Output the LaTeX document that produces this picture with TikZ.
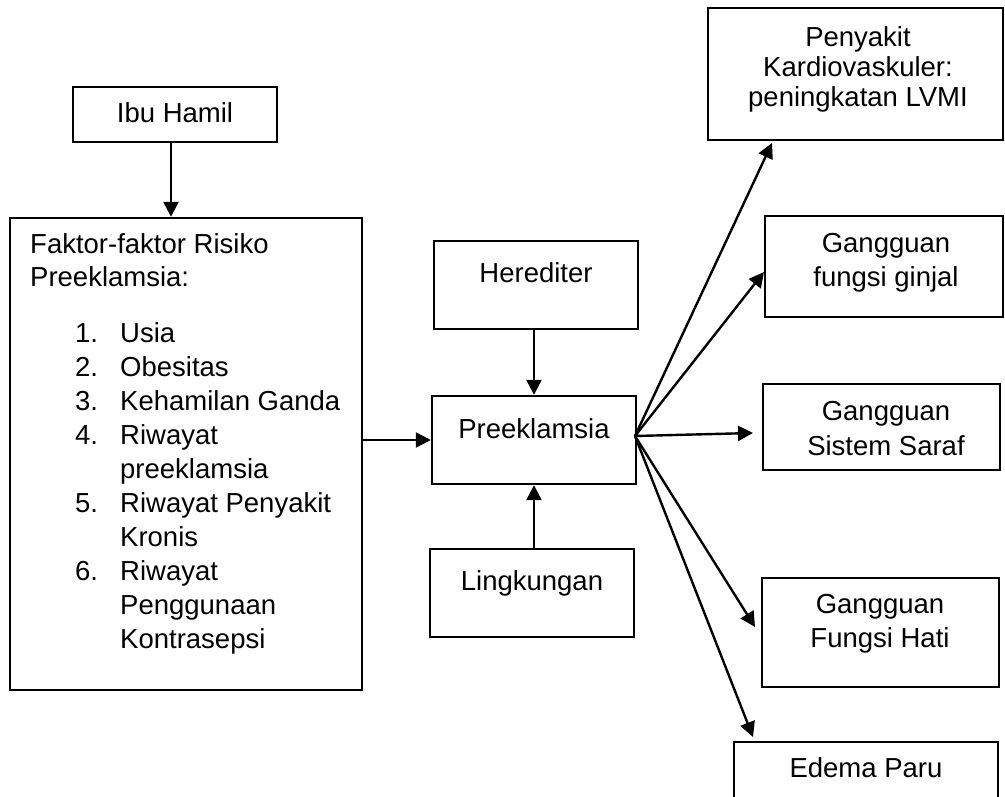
\documentclass[tikz,border=0pt]{standalone}
\usepackage{fontspec}
\setmainfont{Liberation Sans}
\usetikzlibrary{arrows.meta}
\begin{document}
\begin{tikzpicture}[x=1pt,y=-1pt,
  box/.style={draw=black, line width=2.4pt, rectangle, inner sep=0pt},
  txt/.style={font=\fontsize{27.5}{33}\selectfont, inner sep=0pt, anchor=base},
  ltxt/.style={font=\fontsize{27.5}{33}\selectfont, inner sep=0pt, anchor=base west},
  arr/.style={line width=2.4pt, -{Triangle[length=15pt,width=15pt]}}]
\useasboundingbox (0,0) rectangle (1005,797);
\fill[white] (0,0) rectangle (1005,797);
% boxes
\node[box, minimum width=204pt, minimum height=55pt] (ibu) at (175,114.5) {};
\node[box, minimum width=352pt, minimum height=472pt] (fak) at (186,454) {};
\node[box, minimum width=204pt, minimum height=88pt] (her) at (536,285) {};
\node[box, minimum width=204pt, minimum height=88pt] (pre) at (534,440) {};
\node[box, minimum width=204pt, minimum height=88pt] (lin) at (532,593) {};
\node[box, minimum width=295pt, minimum height=132pt] (kar) at (855.5,74) {};
\node[box, minimum width=238pt, minimum height=101pt] (gin) at (884,266.5) {};
\node[box, minimum width=237pt, minimum height=86pt] (sar) at (881.5,427) {};
\node[box, minimum width=237pt, minimum height=109pt] (hat) at (880.5,632.5) {};
\node[box, minimum width=264pt, minimum height=78pt] (ede) at (866,781) {};
% texts
\node[txt] (ibu-t) at (175,123) {Ibu Hamil};
\node[txt] (her-t) at (536,283) {Herediter};
\node[txt] (pre-t) at (534,438) {Preeklamsia};
\node[txt] (lin-t) at (532,590) {Lingkungan};
\node[txt] (kar-t1) at (858,47) {Penyakit};
\node[txt] (kar-t2) at (858,77) {Kardiovaskuler:};
\node[txt] (kar-t3) at (858,107) {peningkatan LVMI};
\node[txt] (gin-t1) at (886,252) {Gangguan};
\node[txt] (gin-t2) at (886,287) {fungsi ginjal};
\node[txt] (sar-t1) at (886,420) {Gangguan};
\node[txt] (sar-t2) at (886,455) {Sistem Saraf};
\node[txt] (hat-t1) at (880,613) {Gangguan};
\node[txt] (hat-t2) at (880,647) {Fungsi Hati};
\node[txt] (ede-t) at (866,777) {Edema Paru};
% factor list
\node[ltxt] (f-h1) at (30,254) {Faktor-faktor Risiko};
\node[ltxt] (f-h2) at (30,287) {Preeklamsia:};
\node[ltxt] (f-n1) at (75,342) {1.};
\node[ltxt] (f-n2) at (75,376) {2.};
\node[ltxt] (f-n3) at (75,410) {3.};
\node[ltxt] (f-n4) at (75,444) {4.};
\node[ltxt] (f-n5) at (75,512) {5.};
\node[ltxt] (f-n6) at (75,580) {6.};
\node[ltxt] (f-l1) at (120,342) {Usia};
\node[ltxt] (f-l2) at (120,376) {Obesitas};
\node[ltxt] (f-l3) at (120,410) {Kehamilan Ganda};
\node[ltxt] (f-l4) at (120,444) {Riwayat};
\node[ltxt] (f-l5) at (120,478) {preeklamsia};
\node[ltxt] (f-l6) at (120,512) {Riwayat Penyakit};
\node[ltxt] (f-l7) at (120,546) {Kronis};
\node[ltxt] (f-l8) at (120,580) {Riwayat};
\node[ltxt] (f-l9) at (120,614) {Penggunaan};
\node[ltxt] (f-l10) at (120,648) {Kontrasepsi};
% connectors
\draw[arr] ([xshift=-4pt]ibu.south) -- ([xshift=-4pt]ibu.south |- fak.north);
\draw[arr] (fak.east |- pre.west) -- (pre.west);
\draw[arr] (pre.north |- her.south) -- (pre.north);
\draw[arr] (pre.south |- lin.north) -- (pre.south);
\coordinate (fan) at (635,436);
\coordinate (t1) at (772,143);
\coordinate (t2) at (764,272);
\coordinate (t3) at (753,433);
\coordinate (t4) at (755,627);
\coordinate (t5) at (753,737);
\draw[arr] (fan) -- (t1);
\draw[arr] (fan) -- (t2);
\draw[arr] (fan) -- (t3);
\draw[arr] (fan) -- (t4);
\draw[arr] (fan) -- (t5);
\end{tikzpicture}
\end{document}
